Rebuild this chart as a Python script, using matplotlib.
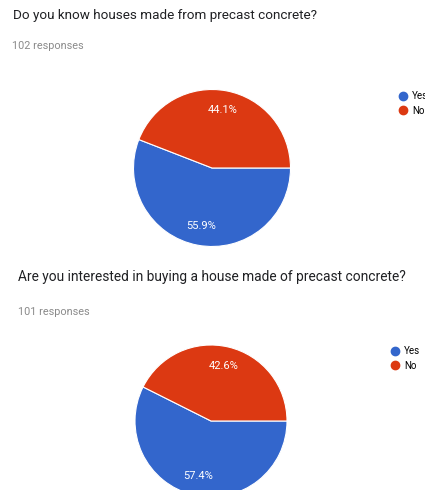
import matplotlib.pyplot as plt
from matplotlib.lines import Line2D

plt.rcParams['font.family'] = ['Roboto', 'DejaVu Sans']

W, H = 425, 490

answers = ["Yes", "No"]
colors = ["#3366cc", "#dc3912"]

q1_title = "Do you know houses made from precast concrete?"
q1_responses = 102
q1_share = [55.9, 44.1]

q2_title = "Are you interested in buying a house made of precast concrete?"
q2_responses = 101
q2_share = [57.4, 42.6]


def px_axes(fig, cx, cy, r):
    # axes box in pixel units (origin top-left), sized so the pie fills it
    return fig.add_axes([(cx - r) / W, (H - cy - r) / H, 2 * r / W, 2 * r / H])


def draw_question(fig, title, responses, share, title_xy, resp_xy, center, radius,
                  legend_xy, title_size):
    fig.text(title_xy[0] / W, 1 - title_xy[1] / H, title, fontsize=title_size,
             color="#202124", va="center", ha="left")
    fig.text(resp_xy[0] / W, 1 - resp_xy[1] / H, f"{responses} responses",
             fontsize=7.8, color="#8a8a8a", va="center", ha="left")

    ax = px_axes(fig, center[0], center[1], radius)
    wedges, texts, autotexts = ax.pie(
        share, colors=colors, startangle=0, counterclock=False,
        autopct="%.1f%%", pctdistance=0.75,
        wedgeprops=dict(edgecolor="white", linewidth=0.8),
        textprops=dict(color="white", fontsize=8))
    ax.set_xlim(-1, 1)
    ax.set_ylim(-1, 1)
    ax.set_aspect("equal")
    ax.axis("off")

    handles = [Line2D([], [], marker="o", linestyle="", markersize=6,
                      markerfacecolor=c, markeredgecolor=c) for c in colors]
    fig.legend(handles, answers, loc="upper left",
               bbox_to_anchor=(legend_xy[0] / W, 1 - legend_xy[1] / H),
               frameon=False, fontsize=7, handletextpad=0.45,
               handlelength=1.0, labelspacing=0.5, borderaxespad=0,
               borderpad=0)


fig = plt.figure(figsize=(W / 100, H / 100), dpi=100)
fig.patch.set_facecolor("white")

draw_question(fig, q1_title, q1_responses, q1_share,
              title_xy=(13, 15), resp_xy=(12, 46), center=(212, 168),
              radius=78.5, legend_xy=(398, 91), title_size=9.7)
draw_question(fig, q2_title, q2_responses, q2_share,
              title_xy=(18, 277), resp_xy=(18, 312), center=(211, 421),
              radius=76, legend_xy=(390, 346), title_size=9.9)

fig.savefig("out.png", dpi=100, facecolor="white")
